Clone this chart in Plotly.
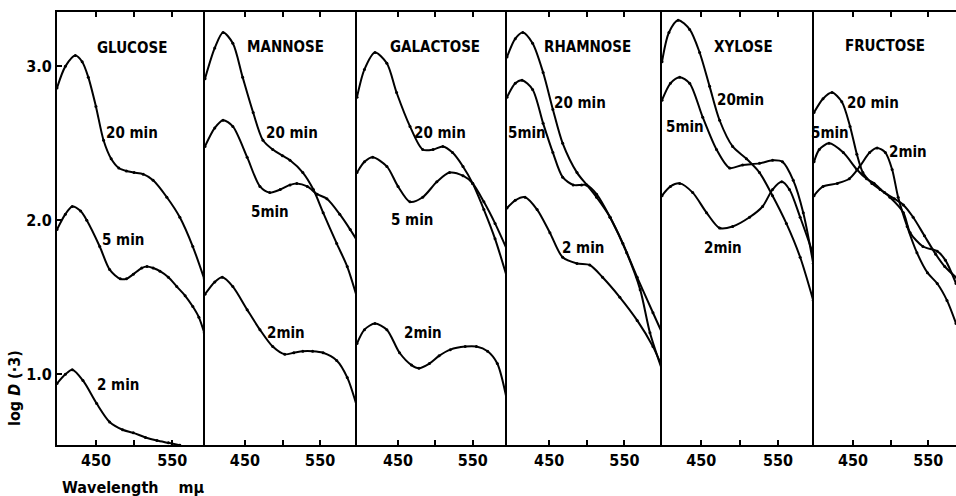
import plotly.graph_objects as go

W, H = 956, 496

sugars = ["GLUCOSE", "MANNOSE", "GALACTOSE", "RHAMNOSE", "XYLOSE", "FRUCTOSE"]

# ---- data: wavelength (mμ) and log D (·3) ----
glucose_20_nm = [399, 410, 423, 432, 440, 450, 460, 470, 480, 490, 500, 512, 525, 543, 560, 577, 592]
glucose_20 = [2.86, 3.00, 3.07, 3.03, 2.93, 2.74, 2.52, 2.40, 2.34, 2.32, 2.31, 2.30, 2.26, 2.15, 2.02, 1.83, 1.62]
glucose_5_nm = [399, 410, 419, 430, 438, 455, 468, 482, 490, 499, 510, 517, 525, 534, 545, 556, 567, 577, 585, 592]
glucose_5 = [1.94, 2.04, 2.09, 2.06, 2.00, 1.83, 1.68, 1.62, 1.62, 1.65, 1.69, 1.70, 1.69, 1.67, 1.63, 1.57, 1.51, 1.44, 1.37, 1.27]
glucose_2_nm = [399, 410, 419, 433, 451, 468, 485, 499, 515, 530, 545, 560]
glucose_2 = [0.94, 1.00, 1.03, 0.96, 0.81, 0.69, 0.64, 0.62, 0.59, 0.57, 0.555, 0.54]

mannose_20_nm = [397, 410, 421, 434, 447, 461, 474, 487, 500, 510, 527, 541, 554, 572, 586, 599]
mannose_20 = [2.92, 3.12, 3.22, 3.15, 2.93, 2.70, 2.52, 2.46, 2.42, 2.39, 2.31, 2.20, 2.05, 1.85, 1.70, 1.50]
mannose_5_nm = [397, 410, 421, 434, 453, 470, 483, 497, 510, 519, 533, 546, 559, 576, 590, 599]
mannose_5 = [2.48, 2.60, 2.65, 2.61, 2.41, 2.22, 2.18, 2.20, 2.23, 2.24, 2.22, 2.17, 2.14, 2.04, 1.94, 1.87]
mannose_2_nm = [397, 410, 420, 434, 453, 470, 487, 503, 515, 527, 540, 554, 572, 586, 599]
mannose_2 = [1.52, 1.60, 1.63, 1.57, 1.42, 1.29, 1.18, 1.13, 1.14, 1.15, 1.15, 1.14, 1.09, 0.98, 0.79]

galactose_20_nm = [395, 405, 419, 435, 448, 466, 483, 497, 510, 523, 537, 550, 565, 580, 596]
galactose_20 = [2.80, 2.98, 3.09, 3.02, 2.83, 2.61, 2.46, 2.46, 2.48, 2.44, 2.35, 2.24, 2.07, 1.88, 1.63]
galactose_5_nm = [395, 405, 416, 435, 450, 466, 483, 502, 519, 537, 550, 565, 580, 596]
galactose_5 = [2.31, 2.38, 2.41, 2.35, 2.22, 2.12, 2.15, 2.25, 2.31, 2.29, 2.24, 2.12, 1.98, 1.81]
galactose_2_nm = [395, 405, 419, 435, 452, 468, 478, 492, 505, 520, 540, 555, 570, 583, 596]
galactose_2 = [1.20, 1.29, 1.33, 1.29, 1.14, 1.06, 1.04, 1.07, 1.12, 1.16, 1.18, 1.18, 1.15, 1.07, 0.83]

rhamnose_20_nm = [394, 405, 415, 428, 442, 455, 468, 487, 500, 513, 531, 548, 567, 588, 600]
rhamnose_20 = [3.06, 3.18, 3.22, 3.15, 2.96, 2.72, 2.50, 2.31, 2.23, 2.15, 2.02, 1.85, 1.63, 1.40, 1.27]
rhamnose_5_nm = [394, 405, 414, 428, 442, 455, 468, 482, 493, 500, 513, 531, 553, 571, 584, 600]
rhamnose_5 = [2.80, 2.89, 2.91, 2.85, 2.63, 2.44, 2.28, 2.23, 2.23, 2.23, 2.17, 2.02, 1.79, 1.55, 1.27, 1.03]
rhamnose_2_nm = [394, 405, 418, 434, 451, 468, 487, 504, 521, 544, 567, 588, 600]
rhamnose_2 = [2.08, 2.13, 2.15, 2.07, 1.92, 1.76, 1.72, 1.71, 1.63, 1.50, 1.35, 1.18, 1.05]

xylose_20_nm = [399, 408, 420, 435, 448, 461, 474, 491, 509, 526, 543, 561, 579, 596]
xylose_20 = [3.03, 3.22, 3.30, 3.24, 3.09, 2.87, 2.65, 2.48, 2.40, 2.31, 2.16, 1.98, 1.76, 1.48]
xylose_5_nm = [399, 410, 422, 435, 452, 470, 487, 504, 526, 543, 556, 570, 583, 596]
xylose_5 = [2.78, 2.89, 2.93, 2.89, 2.67, 2.46, 2.34, 2.36, 2.37, 2.39, 2.38, 2.26, 2.05, 1.72]
xylose_2_nm = [399, 410, 422, 439, 457, 474, 491, 513, 530, 543, 555, 565, 579, 596]
xylose_2 = [2.16, 2.22, 2.24, 2.18, 2.05, 1.95, 1.96, 2.02, 2.09, 2.20, 2.25, 2.20, 2.02, 1.78]

fructose_20_nm = [398, 410, 422, 435, 446, 455, 463, 475, 486, 499, 517, 526, 543, 562, 573, 587]
fructose_20 = [2.70, 2.79, 2.83, 2.77, 2.61, 2.43, 2.31, 2.24, 2.20, 2.15, 2.05, 1.92, 1.83, 1.80, 1.74, 1.59]
fructose_5_nm = [398, 405, 418, 437, 455, 468, 478, 492, 505, 517, 530, 545, 560, 572, 587]
fructose_5 = [2.38, 2.46, 2.50, 2.44, 2.33, 2.27, 2.24, 2.18, 2.14, 2.10, 2.02, 1.90, 1.78, 1.70, 1.63]
fructose_2_nm = [398, 410, 429, 445, 459, 472, 482, 493, 502, 510, 522, 535, 549, 562, 575, 587]
fructose_2 = [2.16, 2.22, 2.24, 2.27, 2.35, 2.44, 2.47, 2.44, 2.33, 2.15, 1.96, 1.79, 1.66, 1.59, 1.48, 1.33]

x_tick_vals = [450, 500, 550]
x_tick_text = ["450", "", "550"]
y_tick_vals = [1.0, 2.0, 3.0]
y_tick_text = ["1.0", "2.0", "3.0"]

curves = [
    [(glucose_20_nm, glucose_20), (glucose_5_nm, glucose_5), (glucose_2_nm, glucose_2)],
    [(mannose_20_nm, mannose_20), (mannose_5_nm, mannose_5), (mannose_2_nm, mannose_2)],
    [(galactose_20_nm, galactose_20), (galactose_5_nm, galactose_5), (galactose_2_nm, galactose_2)],
    [(rhamnose_20_nm, rhamnose_20), (rhamnose_5_nm, rhamnose_5), (rhamnose_2_nm, rhamnose_2)],
    [(xylose_20_nm, xylose_20), (xylose_5_nm, xylose_5), (xylose_2_nm, xylose_2)],
    [(fructose_20_nm, fructose_20), (fructose_5_nm, fructose_5), (fructose_2_nm, fructose_2)],
]

# ---- layout geometry (pixels) ----
panel_px = [(57, 205), (205, 357), (357, 507), (507, 662), (662, 814), (814, 956)]
panel_range = [(399, 593), (397, 599), (395, 596), (394, 600), (399, 597), (398, 587)]
top_px, bottom_px = 12, 445
y_range = [0.541, 3.353]

FONT = "DejaVu Sans Condensed"

def px_x(p):
    return p / W

def px_y(p):
    return 1 - p / H

fig = go.Figure()
layout = dict(
    width=W, height=H, margin=dict(l=0, r=0, t=0, b=0),
    paper_bgcolor="white", plot_bgcolor="white", showlegend=False,
    font=dict(family=FONT, color="black"),
)

for i in range(6):
    n = "" if i == 0 else str(i + 1)
    for (xs, ys) in curves[i]:
        fig.add_trace(go.Scatter(
            x=xs, y=ys, mode="lines+markers",
            line=dict(color="black", width=2, shape="spline", smoothing=0.8),
            marker=dict(color="black", size=3),
            xaxis="x" + n, yaxis="y" + n, cliponaxis=True,
        ))
    layout["xaxis" + n] = dict(
        domain=[px_x(panel_px[i][0]), px_x(panel_px[i][1])],
        range=list(panel_range[i]), anchor="y" + n,
        showgrid=False, zeroline=False, showline=True, linecolor="black", linewidth=2,
        mirror="ticks", ticks="inside", ticklen=5, tickwidth=1.5, tickcolor="black",
        tickvals=x_tick_vals, ticktext=x_tick_text,
        tickfont=dict(family=FONT, size=16, color="black", weight="bold"),
        automargin=False, fixedrange=True,
    )
    ydict = dict(
        domain=[px_y(bottom_px), px_y(top_px)], range=y_range, anchor="x" + n,
        showgrid=False, zeroline=False, showline=True, linecolor="black", linewidth=2,
        automargin=False, fixedrange=True,
    )
    if i == 0:
        ydict.update(ticks="inside", ticklen=5, tickwidth=1.5, tickcolor="black",
                     tickvals=y_tick_vals, ticktext=y_tick_text,
                     tickfont=dict(family=FONT, size=16, color="black", weight="bold"))
    else:
        ydict.update(showticklabels=False, ticks="")
    layout["yaxis" + n] = ydict

fig.update_layout(**layout)

# ---- text labels ----
title_pos = [(132, 48), (285, 47), (435, 47), (587, 47), (743, 47), (885, 46)]
label_pos = [
    [(132, 133), (123, 240), (118, 385)],
    [(292, 133), (270, 212), (286, 333)],
    [(440, 133), (412, 220), (423, 333)],
    [(580, 103), (527, 133), (583, 248)],
    [(740, 100), (685, 127), (723, 248)],
    [(873, 103), (830, 133), (908, 152)],
]
label_text = [
    ["20 min", "5 min", "2 min"],
    ["20 min", "5min", "2min"],
    ["20 min", "5 min", "2min"],
    ["20 min", "5min", "2 min"],
    ["20min", "5min", "2min"],
    ["20 min", "5min", "2min"],
]
for i, s in enumerate(sugars):
    fig.add_annotation(x=px_x(title_pos[i][0]), y=px_y(title_pos[i][1]), xref="paper", yref="paper",
                       xanchor="center", yanchor="middle",
                       text=s, showarrow=False,
                       font=dict(family=FONT, size=15, color="black", weight="bold"))
    for j in range(3):
        fig.add_annotation(x=px_x(label_pos[i][j][0]), y=px_y(label_pos[i][j][1]),
                           xref="paper", yref="paper", xanchor="center", yanchor="middle",
                           text=label_text[i][j], showarrow=False,
                           font=dict(family=FONT, size=15, color="black", weight="bold"))

fig.add_annotation(x=px_x(14), y=px_y(388), xref="paper", yref="paper",
                   xanchor="center", yanchor="middle",
                   text="log <i>D</i> (·3)", textangle=-90, showarrow=False,
                   font=dict(family=FONT, size=16, color="black", weight="bold"))
fig.add_annotation(x=px_x(60), y=px_y(487), xref="paper", yref="paper",
                   xanchor="left", yanchor="middle",
                   text="Wavelength&nbsp;&nbsp;&nbsp;&nbsp;mμ", showarrow=False,
                   font=dict(family=FONT, size=16, color="black", weight="bold"))

fig.write_html("out.html", config={"displayModeBar": False},
               post_script="document.body.style.margin='0';document.body.style.overflow='hidden';")
